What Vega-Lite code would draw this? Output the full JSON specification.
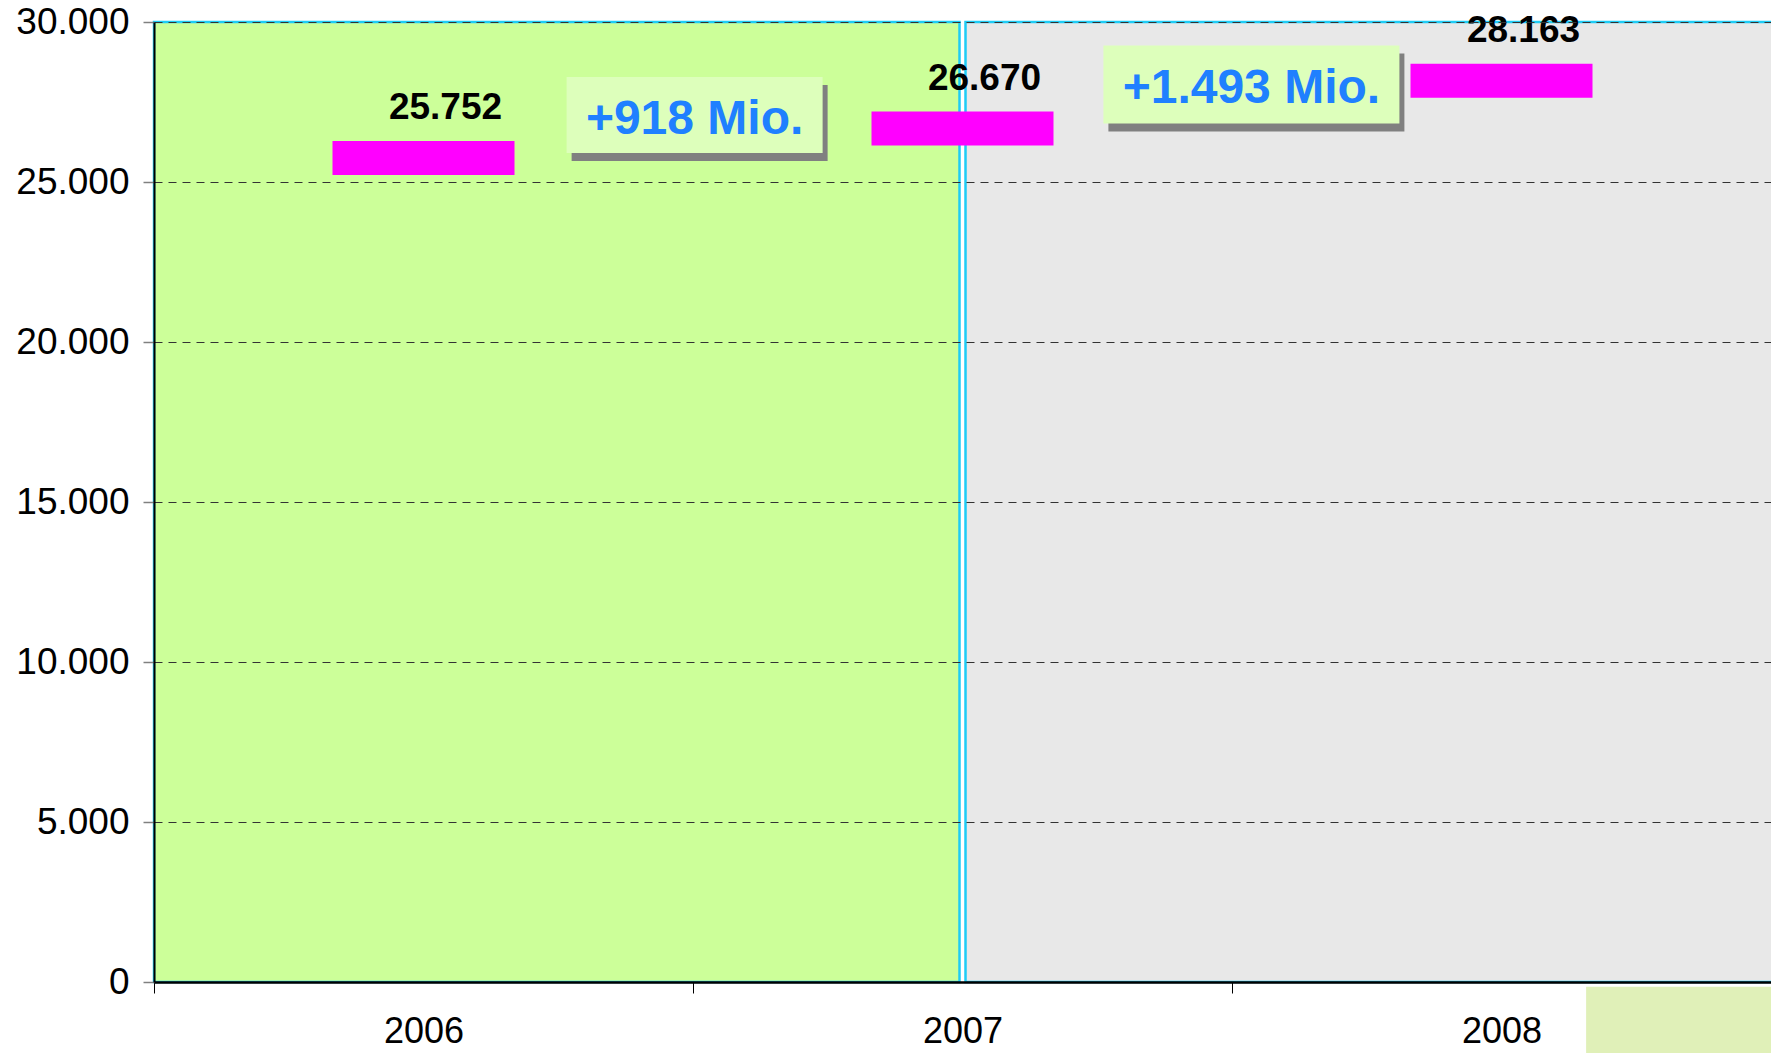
{
  "$schema": "https://vega.github.io/schema/vega-lite/v6.json",
  "width": 1617,
  "height": 960,
  "autosize": "none",
  "padding": {"left": 154, "top": 22, "right": 0, "bottom": 71},
  "background": "white",
  "config": {
    "view": {"stroke": null},
    "font": "Liberation Sans"
  },
  "datasets": {
    "values": [
      {"year": 2006, "value": 25752, "label": "25.752"},
      {"year": 2007, "value": 26670, "label": "26.670"},
      {"year": 2008, "value": 28163, "label": "28.163"}
    ],
    "deltas": [
      {"pos": 2006.503, "level": 27095, "label": "+918 Mio."},
      {"pos": 2007.536, "level": 28049, "label": "+1.493 Mio."}
    ]
  },
  "encoding": {
    "x": {
      "type": "quantitative",
      "scale": {"domain": [2005.5, 2008.5], "nice": false, "zero": false}
    },
    "y": {
      "type": "quantitative",
      "scale": {"domain": [0, 30000], "nice": false}
    }
  },
  "layer": [
    {
      "data": {"values": [{"from": 2005.5, "to": 2007, "lo": 0, "hi": 30000}]},
      "mark": {"type": "rect", "fill": "#CCFF99", "stroke": "#1ECCF5", "strokeWidth": 2.5, "x2Offset": -3},
      "encoding": {
        "x": {"field": "from", "type": "quantitative", "axis": {
          "values": [2005.5, 2006, 2006.5, 2007, 2007.5, 2008, 2008.5],
          "labelExpr": "datum.value % 1 === 0 ? '' + datum.value : ''",
          "grid": false,
          "title": null,
          "domainColor": "#000000",
          "domainWidth": 2.5,
          "tickColor": "#000000",
          "tickWidth": 1,
          "tickSize": 11,
          "tickOpacity": {"condition": {"test": "datum.value % 1 === 0", "value": 0}, "value": 1},
          "labelFontSize": 36,
          "labelColor": "#000000",
          "labelPadding": 21,
          "labelOverlap": false,
          "labelFlush": false,
          "zindex": 1
        }},
        "x2": {"field": "to"},
        "y": {"field": "lo", "type": "quantitative", "axis": {
          "values": [0, 5000, 10000, 15000, 20000, 25000, 30000],
          "labelExpr": "replace(format(datum.value, ','), ',', '.')",
          "title": null,
          "grid": true,
          "gridDash": [8, 6],
          "gridColor": "#333333",
          "gridWidth": 1,
          "domainColor": "#000000",
          "domainWidth": 2,
          "tickColor": "#808080",
          "tickWidth": 1.5,
          "tickSize": 11,
          "labelFontSize": 37,
          "labelColor": "#000000",
          "labelPadding": 14,
          "labelFlush": false,
          "zindex": 1
        }},
        "y2": {"field": "hi"}
      }
    },
    {
      "data": {"values": [{"from": 2007, "to": 2008.52, "lo": 0, "hi": 30000}]},
      "mark": {"type": "rect", "fill": "#E8E8E8", "stroke": "#1ECCF5", "strokeWidth": 2.5, "xOffset": 3},
      "encoding": {
        "x": {"field": "from", "type": "quantitative"},
        "x2": {"field": "to"},
        "y": {"field": "lo", "type": "quantitative"},
        "y2": {"field": "hi"}
      }
    },
    {
      "data": {"values": [{"from": 2008.157, "to": 2008.55, "lo": -2400, "hi": -150}]},
      "mark": {"type": "rect", "fill": "#E0F0B8", "clip": false},
      "encoding": {
        "x": {"field": "from", "type": "quantitative"},
        "x2": {"field": "to"},
        "y": {"field": "lo", "type": "quantitative"},
        "y2": {"field": "hi"}
      }
    },
    {
      "data": {"name": "values"},
      "mark": {"type": "tick", "orient": "horizontal", "color": "#FF00FF", "opacity": 1, "size": 182, "thickness": 34},
      "encoding": {
        "x": {"field": "year", "type": "quantitative"},
        "y": {"field": "value", "type": "quantitative"}
      }
    },
    {
      "data": {"name": "values"},
      "mark": {"type": "text", "font": "Liberation Sans", "fontWeight": "bold", "fontSize": 37, "color": "#000000", "align": "center", "baseline": "alphabetic", "dx": 22, "dy": -39},
      "encoding": {
        "x": {"field": "year", "type": "quantitative"},
        "y": {"field": "value", "type": "quantitative"},
        "text": {"field": "label"}
      }
    },
    {
      "data": {"name": "deltas"},
      "transform": [{"filter": "datum.label === '+918 Mio.'"}],
      "mark": {"type": "rect", "fill": "#808080", "width": 256, "height": 76, "xOffset": 5, "yOffset": 8},
      "encoding": {
        "x": {"field": "pos", "type": "quantitative"},
        "y": {"field": "level", "type": "quantitative"}
      }
    },
    {
      "data": {"name": "deltas"},
      "transform": [{"filter": "datum.label === '+918 Mio.'"}],
      "mark": {"type": "rect", "fill": "#DDFFBB", "width": 256, "height": 76},
      "encoding": {
        "x": {"field": "pos", "type": "quantitative"},
        "y": {"field": "level", "type": "quantitative"}
      }
    },
    {
      "data": {"name": "deltas"},
      "transform": [{"filter": "datum.label === '+1.493 Mio.'"}],
      "mark": {"type": "rect", "fill": "#808080", "width": 296, "height": 78, "xOffset": 5, "yOffset": 8},
      "encoding": {
        "x": {"field": "pos", "type": "quantitative"},
        "y": {"field": "level", "type": "quantitative"}
      }
    },
    {
      "data": {"name": "deltas"},
      "transform": [{"filter": "datum.label === '+1.493 Mio.'"}],
      "mark": {"type": "rect", "fill": "#DDFFBB", "width": 296, "height": 78},
      "encoding": {
        "x": {"field": "pos", "type": "quantitative"},
        "y": {"field": "level", "type": "quantitative"}
      }
    },
    {
      "data": {"name": "deltas"},
      "mark": {"type": "text", "font": "Liberation Sans", "fontWeight": "bold", "fontSize": 48, "color": "#1F80FF", "align": "center", "baseline": "alphabetic", "dy": 19},
      "encoding": {
        "x": {"field": "pos", "type": "quantitative"},
        "y": {"field": "level", "type": "quantitative"},
        "text": {"field": "label"}
      }
    }
  ]
}
